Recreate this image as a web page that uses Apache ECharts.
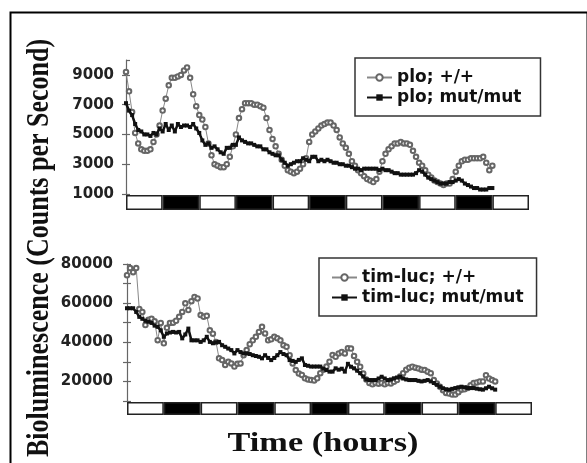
<!DOCTYPE html>
<html><head><meta charset="utf-8">
<script src="https://cdn.jsdelivr.net/npm/echarts@6/dist/echarts.min.js"></script>
<style>html,body{margin:0;padding:0;background:#fff}#c{width:587px;height:463px}</style>
</head><body><div id="c"></div>
<script>
// Time axis: 0..132 h (11 x 12 h light/dark phases); samples hourly from 0 h
const hoursMax = 132;
const ldPhases = ['L','D','L','D','L','D','L','D','L','D','L'];

const ploWT = [
 9200,7900,6500,5100,4400,4000,3900,3900,4000,4500,
 5000,5600,6600,7400,8300,8800,8800,8900,9000,9300,
 9500,8800,7700,6900,6300,6000,5500,4400,3600,3000,
 2900,2800,2800,3000,3500,4200,5000,6100,6700,7100,
 7100,7100,7000,7000,6900,6800,6100,5300,4700,4200,
 3700,3300,2900,2600,2500,2400,2500,2700,3000,3400,
 4500,5000,5200,5400,5600,5700,5800,5800,5600,5300,
 4800,4400,4100,3700,3200,2900,2600,2400,2200,2000,
 1900,1800,2000,2500,3200,3700,4000,4200,4400,4400,
 4500,4400,4400,4300,3900,3500,3100,2900,2600,2300,
 2100,1900,1800,1700,1600,1700,1700,2000,2500,2900,
 3200,3300,3300,3400,3400,3400,3400,3500,3100,2600,
 2900];
const ploMut = [
 7100,6600,6300,5700,5300,5200,5000,5000,4900,5100,
 5000,5400,5200,5700,5300,5600,5200,5700,5500,5600,
 5600,5500,5700,5400,5100,4600,4300,4400,4100,4200,
 4000,3800,3700,4100,4100,4300,4300,4800,4600,4500,
 4400,4400,4300,4200,4200,4000,4000,3800,3700,3600,
 3600,3300,3100,2900,3000,3100,3200,3200,3400,3300,
 3200,3500,3500,3200,3300,3200,3300,3200,3100,3100,
 3000,3000,2900,2900,2800,2700,2700,2600,2700,2700,
 2700,2700,2700,2600,2700,2600,2600,2500,2400,2400,
 2300,2300,2300,2300,2300,2400,2600,2500,2300,2100,
 2000,1900,1800,1700,1700,1700,1800,1800,1900,2000,
 1900,1700,1600,1500,1400,1400,1300,1300,1300,1400,
 1400];
const timWT = [
 74300,77900,75800,77900,57000,55500,48800,51500,52000,50700,
 41100,49900,39500,47400,49900,50000,51000,53000,55500,59900,
 56500,61000,63200,62400,53900,53000,53500,46100,44400,40200,
 31800,30900,28400,30000,29200,27600,29000,29200,33400,36000,
 39000,41000,42800,45300,47900,44500,41000,41500,42800,42000,
 41000,38500,37700,33400,29200,25800,24000,23300,21600,21000,
 20700,20500,21600,24200,26000,27600,30100,33500,32600,34300,
 35100,34300,37000,36800,33000,30000,27500,24000,21000,19200,
 18500,19200,18800,19200,18500,19200,19000,19800,20700,22500,
 24200,26000,27000,27500,27000,26600,26000,25800,25000,24200,
 20700,19000,17300,15500,14100,13800,13300,13300,14500,15800,
 16000,16600,18000,19200,19500,20000,20000,23200,21500,20700,
 20000];
const timMut = [
 57400,57400,57400,55500,53000,52000,51000,50500,49900,48500,
 47900,46100,42800,44500,45000,45300,45000,45300,42000,44000,
 47000,41000,41000,41000,40200,41000,42800,40200,39500,40000,
 40200,38500,37700,36800,36000,34300,36000,35000,34300,34300,
 34000,33400,33000,32600,31800,33400,32000,30900,32000,33400,
 35000,34000,33400,30900,30500,30000,31000,31800,28400,28000,
 27600,27600,27600,27600,26500,25800,25000,25000,26700,26000,
 26500,25000,29000,27500,26700,25500,24200,22500,21000,20700,
 20700,20700,21500,22400,21500,20700,21000,21600,22000,22400,
 21500,21000,20700,20700,20700,20300,20000,20300,20700,20000,
 19200,18300,17300,16500,16000,15800,16200,16600,17000,17300,
 17000,16600,16600,16600,16300,16000,15800,16500,17300,16500,
 15800];

const topTickLabels = [1000,3000,5000,7000,9000];
const bottomTickLabels = [20000,40000,60000,80000];
const names = ['plo; +/+','plo; mut/mut','tim-luc; +/+','tim-luc; mut/mut'];

const pairs = arr => arr.map((v,i)=>[i,v]);

const labelFont = {fontFamily:'DejaVu Sans', fontWeight:'bold', fontSize:15, color:'#222'};
const axisLineStyle = {color:'#666', width:1.2};

function mainY(gridIndex, min, max, interval, shown, margin, showMax){
  return [{
    gridIndex, type:'value', position:'left', min, max, interval,
    axisLine:{show:true, lineStyle:axisLineStyle},
    axisTick:{show:true, length:4, lineStyle:axisLineStyle},
    splitLine:{show:false},
    axisLabel:Object.assign({margin, showMaxLabel:showMax, showMinLabel:true,
      formatter:v => shown.indexOf(v) >= 0 ? String(v) : ''}, labelFont)
  },{
    gridIndex, type:'value', position:'left', offset:0, min, max, interval,
    axisLine:{show:false},
    axisTick:{show:true, inside:true, length:4, lineStyle:axisLineStyle},
    splitLine:{show:false}, axisLabel:{show:false}
  }];
}
const hiddenY = g => ({gridIndex:g, type:'value', min:0, max:1, show:false});
const timeX = g => ({gridIndex:g, type:'value', min:0, max:hoursMax, show:false});
const ldX = g => ({gridIndex:g, type:'category', data:ldPhases.map((p,i)=>p+i), show:false});

const ldData = ldPhases.map(p => ({value:1, itemStyle:{color: p==='D' ? '#000' : '#fff'}}));

const wtStyle = {
  type:'line', symbol:'emptyCircle', symbolSize:4.5, showSymbol:true,
  lineStyle:{color:'#888', width:1},
  itemStyle:{color:'#666', borderColor:'#666', borderWidth:1}
};
const mutStyle = {
  type:'line', symbol:'rect', symbolSize:4, showSymbol:true,
  lineStyle:{color:'#111', width:2.5},
  itemStyle:{color:'#111'}
};
const ldStyle = {
  type:'bar', barWidth:'100%', barCategoryGap:'0%', silent:true,
  itemStyle:{borderColor:'#222', borderWidth:1.5}
};

const legendBase = {
  orient:'vertical', itemWidth:25, itemHeight:8, itemGap:3,
  borderColor:'#333', borderWidth:1.5, backgroundColor:'#fff',
  textStyle:{fontFamily:'DejaVu Sans', fontWeight:'bold', fontSize:17, color:'#111'}
};

const option = {
  animation:false,
  backgroundColor:'#fff',
  grid:[
    {left:126, top:60, width:403, height:134},
    {left:126, top:195, width:403, height:15},
    {left:127, top:264, width:405, height:137},
    {left:127, top:402, width:405, height:13}
  ],
  xAxis:[timeX(0), ldX(1), timeX(2), ldX(3)],
  yAxis:[].concat(
    mainY(0, 1000, 10000, 2000, topTickLabels, 12, false),
    [hiddenY(1)],
    mainY(2, 10000, 80000, 10000, bottomTickLabels, 14, true),
    [hiddenY(3)]
  ),
  legend:[
    Object.assign({}, legendBase, {data:[names[0],names[1]], left:355, top:58, padding:[11,19,10,11]}),
    Object.assign({}, legendBase, {data:[names[2],names[3]], left:319, top:258, padding:[11,13,10,12]})
  ],
  series:[
    Object.assign({}, wtStyle, {name:names[0], xAxisIndex:0, yAxisIndex:0, data:pairs(ploWT), z:3}),
    Object.assign({}, mutStyle, {name:names[1], xAxisIndex:0, yAxisIndex:0, data:pairs(ploMut), z:4}),
    Object.assign({}, ldStyle, {xAxisIndex:1, yAxisIndex:2, data:ldData}),
    Object.assign({}, wtStyle, {name:names[2], xAxisIndex:2, yAxisIndex:3, data:pairs(timWT), z:3}),
    Object.assign({}, mutStyle, {name:names[3], xAxisIndex:2, yAxisIndex:3, data:pairs(timMut), z:4}),
    Object.assign({}, ldStyle, {xAxisIndex:3, yAxisIndex:5, data:ldData})
  ],
  graphic:[
    {type:'rect', left:8, top:10, shape:{x:0,y:0,width:577,height:470}, silent:true,
     style:{fill:'none', stroke:'#000', lineWidth:2}, z:-1},
    {type:'text', x:39.5, y:248, rotation:Math.PI/2, scaleY:1.2,
     style:{text:'Bioluminescence (Counts per Second)', fontFamily:'Liberation Serif',
            fontWeight:'bold', fontSize:26, fill:'#111', align:'center', verticalAlign:'middle'}},
    {type:'text', x:323, y:444, scaleX:1.27,
     style:{text:'Time (hours)', fontFamily:'Liberation Serif', fontWeight:'bold', fontSize:27,
            fill:'#111', align:'center', verticalAlign:'middle'}}
  ]
};

const chart = echarts.init(document.getElementById('c'), null, {renderer:'canvas'});
chart.setOption(option);
</script>
</body></html>
